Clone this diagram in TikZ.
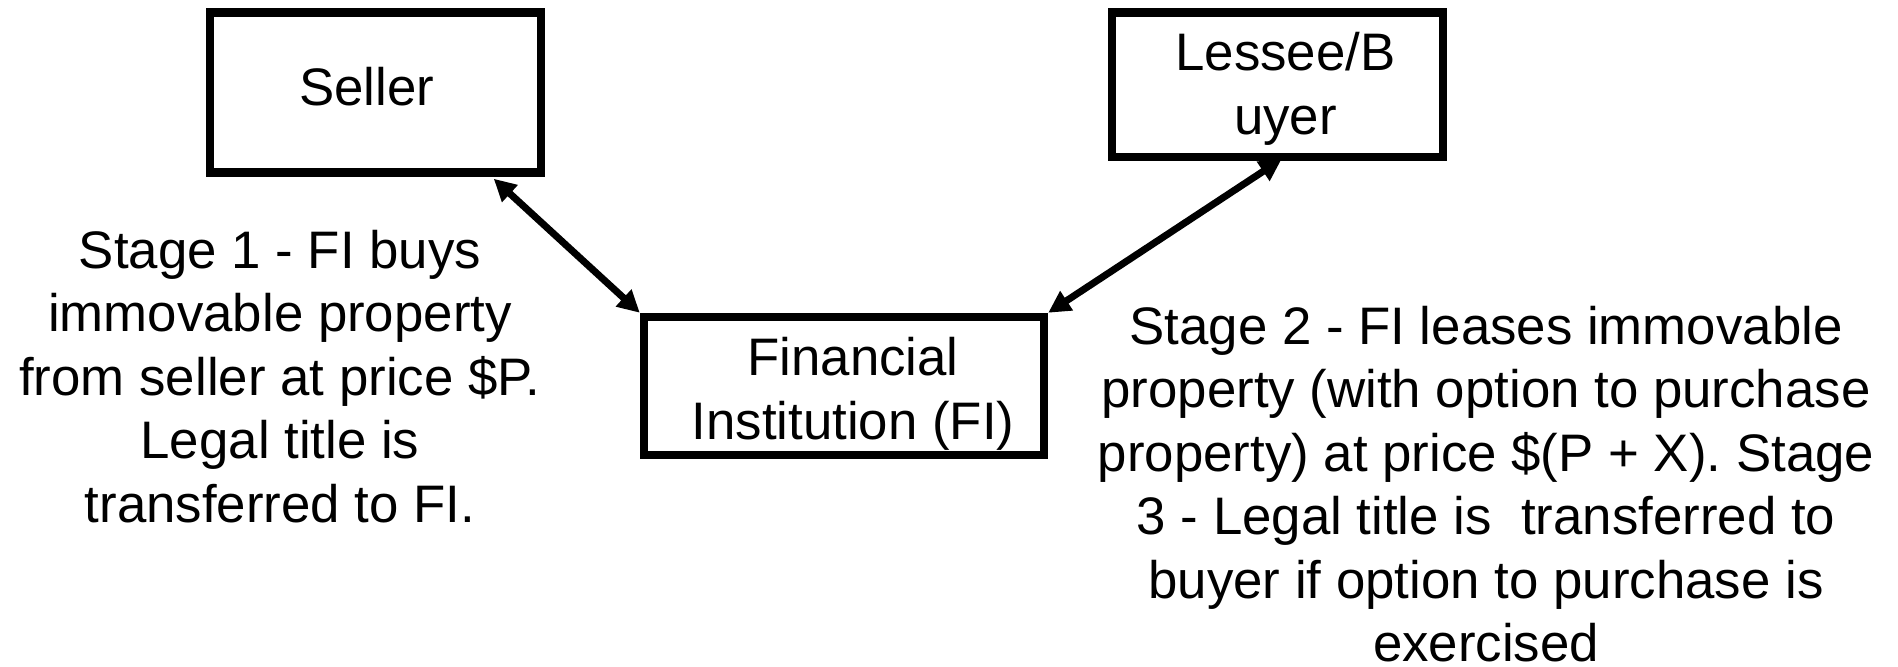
\documentclass[tikz,border=0pt]{standalone}
\usepackage{fontspec}
\setmainfont{Liberation Sans}
\usetikzlibrary{arrows.meta,calc}
\begin{document}
\begin{tikzpicture}[x=0.5pt,y=-0.5pt,
  txt/.style={font=\fontsize{26.4pt}{31.75pt}\selectfont, align=center, inner sep=0pt},
  partybox/.style={draw=black, line width=4.25pt, fill=white, inner sep=0pt},
  link/.style={line width=3.5pt, {Triangle[length=11pt,width=11pt]}-{Triangle[length=11pt,width=11pt]}}]
\useasboundingbox[fill=white] (0,0) rectangle (1898,666);
\node[partybox, minimum width=165.5pt, minimum height=80pt] (seller) at (375.5,92.5) {};
\node[partybox, minimum width=165.5pt, minimum height=72.25pt] (lessee) at (1277.5,84.75) {};
\node[partybox, minimum width=200pt, minimum height=69pt] (fi) at (844,386) {};
\node[txt] (sellertext) at ($(seller)+(-9,-6)$) {Seller};
\node[txt] (lesseetext) at ($(lessee)+(8,4)$) {Lessee/B\\uyer};
\node[txt] (fitext) at ($(fi)+(9,8)$) {Financial\\Institution (FI)};
\node[txt] (stage1) at (280,376.5) {Stage 1 - FI buys\\immovable property\\from seller at price \$P.\\Legal title is\\transferred to FI.};
\node[txt] (stage2) at (1486,484) {Stage 2 - FI leases immovable\\property (with option to purchase\\property) at price \$(P + X). Stage\\3 - Legal title is\ \ transferred to\\buyer if option to purchase is\\exercised};
\draw[link] ($(seller.south east)+(-51.5,2)$) -- (fi.north west);
\draw[link] ($(lessee.south)+(4,-2)$) -- (fi.north east);
\end{tikzpicture}
\end{document}
